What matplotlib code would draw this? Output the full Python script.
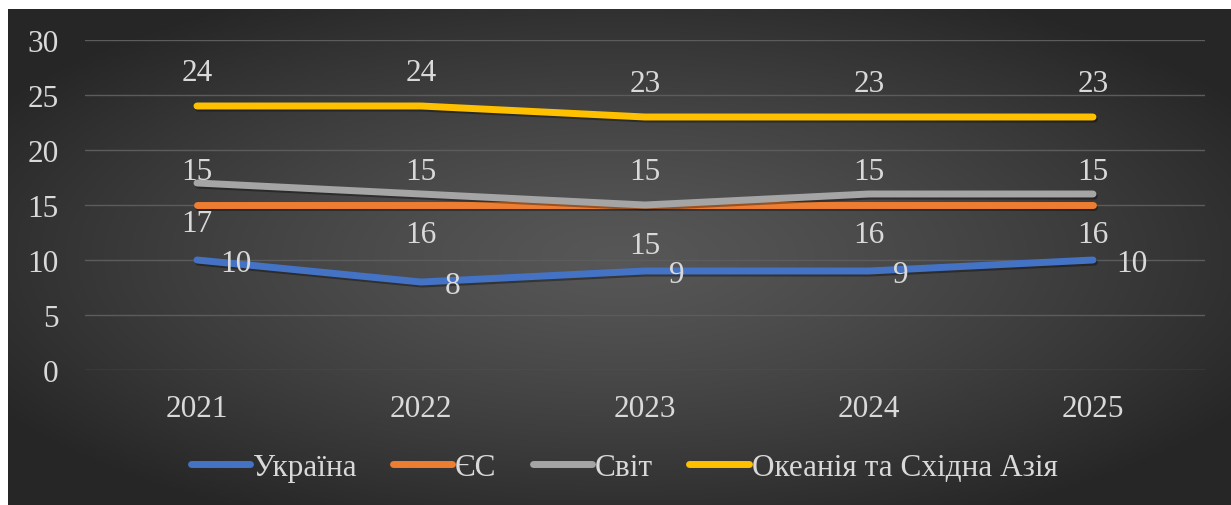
import numpy as np
import matplotlib
matplotlib.use('Agg')
import matplotlib.pyplot as plt
import matplotlib.patheffects as pe

# Data
years = ['2021', '2022', '2023', '2024', '2025']
ukraine = [10, 8, 9, 9, 10]
eu = [15, 15, 15, 15, 15]
world = [17, 16, 15, 16, 16]
oceania = [24, 24, 23, 23, 23]

series_names = ['Україна', 'ЄС', 'Світ', 'Океанія та Східна Азія']
series_colors = ['#4472C4', '#ED7D31', '#A5A5A5', '#FFC000']
y_ticks = [0, 5, 10, 15, 20, 25, 30]

plt.rcParams['font.family'] = ['Liberation Serif', 'DejaVu Serif']
txt_color = '#D9D9D9'
fs = 22.5

W, H = 1231, 506
fig = plt.figure(figsize=(W / 100, H / 100), dpi=100)
fig.patch.set_facecolor('white')

# dark radial-gradient background (chart area starts 8 px in, 10 px down)
bg = fig.add_axes([8 / W, 0, 1 - 8 / W, 1 - 10 / H])
bg.set_axis_off()
gx, gy = np.meshgrid(np.linspace(-1, 1, 400), np.linspace(-1, 1, 200))
r = np.clip(np.sqrt(gx ** 2 + gy ** 2) / 1.2, 0, 1)
shade = 0.34 - 0.19 * r ** 1.3
bg.imshow(np.dstack([shade] * 3), aspect='auto', extent=[0, 1, 0, 1],
          interpolation='bicubic')
bg.set_xlim(0, 1)
bg.set_ylim(0, 1)

ax = fig.add_axes([85 / W, 1 - 371 / H, (1205 - 85) / W, (371 - 41) / H])
ax.patch.set_alpha(0)
x = np.arange(len(years))

shadow = [pe.SimpleLineShadow(offset=(1, -1.5), shadow_color='black', alpha=0.35),
          pe.Normal()]
all_series = [ukraine, eu, world, oceania]
for vals, name, col in zip(all_series, series_names, series_colors):
    ax.plot(x, vals, color=col, lw=5, solid_capstyle='round',
            solid_joinstyle='round', label=name, path_effects=shadow)

# data labels: Ukraine right, EU above, World below, Oceania above
for xi, v in zip(x, ukraine):
    ax.annotate(str(v), (xi, v), xytext=(17, -2.5), textcoords='offset points',
                ha='left', va='center', color=txt_color, fontsize=fs)
for xi, v in zip(x, eu):
    ax.annotate(str(v), (xi, v), xytext=(0, 24), textcoords='offset points',
                ha='center', va='center', color=txt_color, fontsize=fs)
for xi, v in zip(x, world):
    ax.annotate(str(v), (xi, v), xytext=(0, -29), textcoords='offset points',
                ha='center', va='center', color=txt_color, fontsize=fs)
for xi, v in zip(x, oceania):
    ax.annotate(str(v), (xi, v), xytext=(0, 24), textcoords='offset points',
                ha='center', va='center', color=txt_color, fontsize=fs)

ax.set_xlim(-0.5, len(years) - 0.5)
ax.set_ylim(0, 30)
ax.set_yticks(y_ticks)
ax.set_xticks(x)
ax.set_xticklabels(years)
ax.tick_params(axis='both', length=0, colors=txt_color, labelsize=fs)
ax.tick_params(axis='y', pad=19)
ax.tick_params(axis='x', pad=17)
ax.grid(axis='y', color='#5C5C5C', lw=1.0)
ax.set_axisbelow(True)
for s in ax.spines.values():
    s.set_visible(False)

leg = fig.legend(loc='center', bbox_to_anchor=(0.507, 0.075), ncol=4,
                 frameon=False, fontsize=fs, handlelength=1.9,
                 handletextpad=0.1, columnspacing=1.15)
for t in leg.get_texts():
    t.set_color(txt_color)
for h in leg.get_lines():
    h.set_path_effects([])

fig.savefig('out.png', dpi=100, facecolor=fig.get_facecolor())
